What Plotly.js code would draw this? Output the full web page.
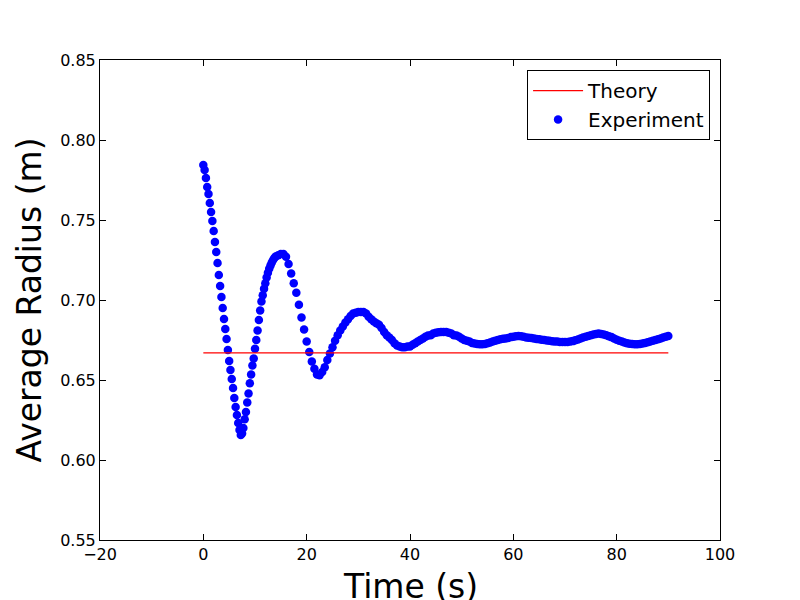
<!DOCTYPE html>
<html>
<head>
<meta charset="utf-8">
<script src="https://cdn.plot.ly/plotly-3.0.1.min.js"></script>
<style>
  body { margin: 0; background: white; }
  #plot { width: 800px; height: 600px; }
</style>
</head>
<body>
<div id="plot"></div>
<script>
// theory value (flat line)
const theoryTime = [0, 90];
const theoryRadius = [0.667, 0.667];

// experiment, first part sampled every 0.25 s (0 .. 14 s)
const earlyStart = 0;
const earlyStep = 0.25;
const earlyRadius = [
    0.7844, 0.7813, 0.7763, 0.7706, 0.7663, 0.7606, 0.755, 0.7494, 0.7431, 0.7363,
    0.73, 0.7231, 0.7156, 0.7088, 0.7019, 0.695, 0.6881, 0.6819, 0.6756, 0.6688,
    0.6619, 0.6563, 0.6506, 0.645, 0.6388, 0.6331, 0.6281, 0.6231, 0.6188, 0.6156,
    0.6165, 0.620, 0.6255, 0.630, 0.636, 0.6415, 0.648, 0.6535, 0.659, 0.6635,
    0.6695, 0.675, 0.681, 0.6875, 0.6935, 0.699, 0.703, 0.707, 0.7105, 0.714,
    0.717, 0.7195, 0.7215, 0.7235, 0.725, 0.7262, 0.7272
];

// experiment, rest sampled every 0.5 s (14.5 .. 90 s)
const lateStart = 14.5;
const lateStep = 0.5;
const lateRadius = [
    0.728, 0.7287, 0.7288, 0.727, 0.7225, 0.7165, 0.7105, 0.7045, 0.697, 0.689,
    0.6815, 0.674, 0.6675, 0.6615, 0.657, 0.6535, 0.653, 0.655, 0.658, 0.6625,
    0.6665, 0.6705, 0.6745, 0.678, 0.681, 0.6835, 0.686, 0.688, 0.690, 0.6915,
    0.692, 0.6925, 0.6925, 0.6925, 0.6915, 0.6895, 0.688, 0.6865, 0.6855, 0.6845,
    0.6825, 0.680, 0.678, 0.6765, 0.675, 0.673, 0.6715, 0.671, 0.6705, 0.6705,
    0.671, 0.671, 0.672, 0.673, 0.674, 0.675, 0.676, 0.677, 0.6778, 0.678,
    0.679, 0.6795, 0.6798, 0.680, 0.680, 0.680, 0.6795, 0.679, 0.678, 0.6778,
    0.677, 0.676, 0.675, 0.6745, 0.674, 0.6732, 0.6728, 0.6725, 0.6723, 0.6723,
    0.6725, 0.673, 0.6735, 0.674, 0.6745, 0.675, 0.6755, 0.6758, 0.676, 0.6763,
    0.6768, 0.677, 0.6773, 0.6775, 0.6773, 0.677, 0.6766, 0.6764, 0.6762, 0.676,
    0.6757, 0.6755, 0.6752, 0.675, 0.6747, 0.6745, 0.6742, 0.674, 0.674, 0.6738,
    0.6738, 0.6738, 0.6738, 0.674, 0.6743, 0.6748, 0.6753, 0.676, 0.6765, 0.677,
    0.6775, 0.678, 0.6785, 0.6788, 0.679, 0.6788, 0.6785, 0.678, 0.6773, 0.6768,
    0.676, 0.6752, 0.6745, 0.674, 0.6735, 0.673, 0.6727, 0.6725, 0.6723, 0.6723,
    0.6725, 0.6728, 0.6732, 0.6736, 0.674, 0.6745, 0.675, 0.6755, 0.676, 0.6765,
    0.677, 0.6775
];

const markerStyle = { color: '#0000ff', size: 8.5, line: { width: 0 } };

const experimentEarly = {
    x0: earlyStart,
    dx: earlyStep,
    y: earlyRadius,
    mode: 'markers',
    name: 'Experiment',
    legendgroup: 'exp',
    legendrank: 2,
    marker: markerStyle
};

const experimentLate = {
    x0: lateStart,
    dx: lateStep,
    y: lateRadius,
    mode: 'markers',
    name: 'Experiment',
    legendgroup: 'exp',
    showlegend: false,
    marker: markerStyle
};

// drawn last so the red line sits on top of the dots, like matplotlib
const theoryTrace = {
    x: theoryTime,
    y: theoryRadius,
    mode: 'lines',
    name: 'Theory',
    legendrank: 1,
    line: { color: '#ff0000', width: 1.2 }
};

const axisStyle = {
    showline: true,
    linecolor: 'black',
    linewidth: 1,
    mirror: 'ticks',
    ticks: 'inside',
    ticklen: 6,
    tickcolor: 'black',
    showgrid: false,
    zeroline: false,
    tickfont: { size: 16, color: 'black' }
};

const layout = {
    width: 800,
    height: 600,
    margin: { l: 100, r: 80, t: 60, b: 60 },
    font: { family: 'DejaVu Sans', color: 'black' },
    paper_bgcolor: 'white',
    plot_bgcolor: 'white',
    xaxis: Object.assign({}, axisStyle, {
        range: [-20, 100],
        dtick: 20
    }),
    yaxis: Object.assign({}, axisStyle, {
        range: [0.55, 0.85],
        dtick: 0.05,
        tickformat: '.2f',
        title: { text: 'Average Radius (m)', font: { size: 33 }, standoff: 8 }
    }),
    // x title as an annotation so it can sit lower than the margin allows
    annotations: [{
        text: 'Time (s)',
        xref: 'paper',
        yref: 'paper',
        x: 0.5,
        y: 0,
        xanchor: 'center',
        yanchor: 'middle',
        yshift: -46,
        showarrow: false,
        font: { size: 33, color: 'black' }
    }],
    legend: {
        x: 0.984,
        y: 0.979,
        xanchor: 'right',
        yanchor: 'top',
        bgcolor: 'white',
        bordercolor: 'black',
        borderwidth: 1,
        font: { size: 20 },
        itemwidth: 50,
        tracegroupgap: 0,
        traceorder: 'normal'
    },
    showlegend: true
};

const config = { displayModeBar: false, staticPlot: true };

Plotly.newPlot('plot', [experimentEarly, experimentLate, theoryTrace], layout, config);
</script>
</body>
</html>
